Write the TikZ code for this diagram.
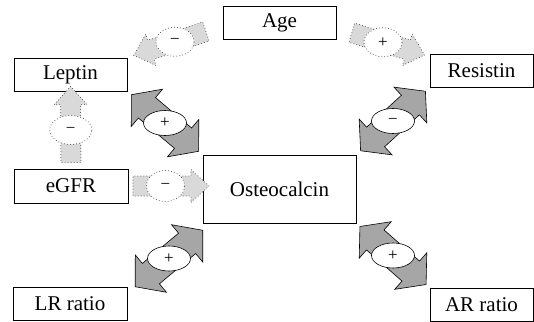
\documentclass[tikz,border=0pt]{standalone}
\usepackage{fontspec}
\setmainfont{Liberation Serif}
\usetikzlibrary{shapes.arrows,shapes.geometric}
\definecolor{arrowgray}{RGB}{166,166,166}
\definecolor{lightgray}{RGB}{217,217,217}
\definecolor{dotgray}{RGB}{70,70,70}

\tikzset{
  factor/.style={draw, line width=0.9pt, minimum width=113pt, minimum height=33pt, inner sep=0pt, font=\fontsize{21}{25}\selectfont},
  bigarrow/.style={double arrow, draw, fill=arrowgray, line width=0.6pt, minimum height=88pt,
    double arrow head extend=11pt, double arrow tip angle=100, inner xsep=0pt, inner ysep=13pt, sloped, allow upside down},
  weakarrow/.style={single arrow, draw=dotgray, line width=1pt, dash pattern=on 0pt off 3pt, line cap=round,
    fill=lightgray, minimum height=76pt, single arrow head extend=6.5pt, single arrow tip angle=85,
    inner xsep=0pt, inner ysep=9.5pt, sloped, allow upside down},
  signoval/.style={ellipse, draw, fill=white, line width=0.6pt, minimum width=43pt, minimum height=25pt, inner sep=0pt, font=\fontsize{17}{17}\selectfont},
  weakoval/.style={signoval, draw=dotgray, line width=1pt, dash pattern=on 0pt off 3pt, line cap=round, minimum width=38pt, minimum height=29pt}
}

\begin{document}
\begin{tikzpicture}[x=1pt, y=-1pt]
\useasboundingbox (0,0) rectangle (534,321);
% Factor boxes
\node[factor] (age) at (279.5,23) {Age};
\node[factor] (leptin) at (70.5,74.5) {Leptin};
\node[factor, minimum width=103pt] (resistin) at (481.5,70.5) {Resistin};
\node[factor, minimum width=114pt, minimum height=34pt] (egfr) at (71,186) {eGFR};
\node[factor, minimum width=153pt, minimum height=68pt] (osteo) at (279.5,189) {Osteocalcin};
\node[factor, minimum width=114pt] (lrratio) at (70,303.5) {LR ratio};
\node[factor, minimum width=103pt] (arratio) at (481.5,304.5) {AR ratio};

% Weak (dotted) effects
\path ([yshift=-3pt]age.west) -- node[weakarrow] {} node[weakoval] {−} (leptin.north east);
\path ([yshift=-5pt]age.east) -- node[weakarrow] {} node[weakoval] {+} ([yshift=-3pt]resistin.north west);
\path (egfr.north) -- node[weakarrow] {} node[weakoval, minimum width=42pt] {−} (leptin.south);
\path (egfr.east) -- node[weakarrow] {} node[weakoval, minimum height=31pt] {−} (egfr.east -| osteo.west);

% Associations with osteocalcin
\path (leptin.south east) -- node[bigarrow] {} node[signoval] {+} (osteo.north west);
\path (resistin.south west) -- node[bigarrow] {} node[signoval] {−} (osteo.north east);
\path ([xshift=8pt]lrratio.north east) -- node[bigarrow] {} node[signoval] {+} ([yshift=-7pt]osteo.south west);
\path (osteo.south east) -- node[bigarrow] {} node[signoval] {+} (arratio.north west);
\end{tikzpicture}
\end{document}
